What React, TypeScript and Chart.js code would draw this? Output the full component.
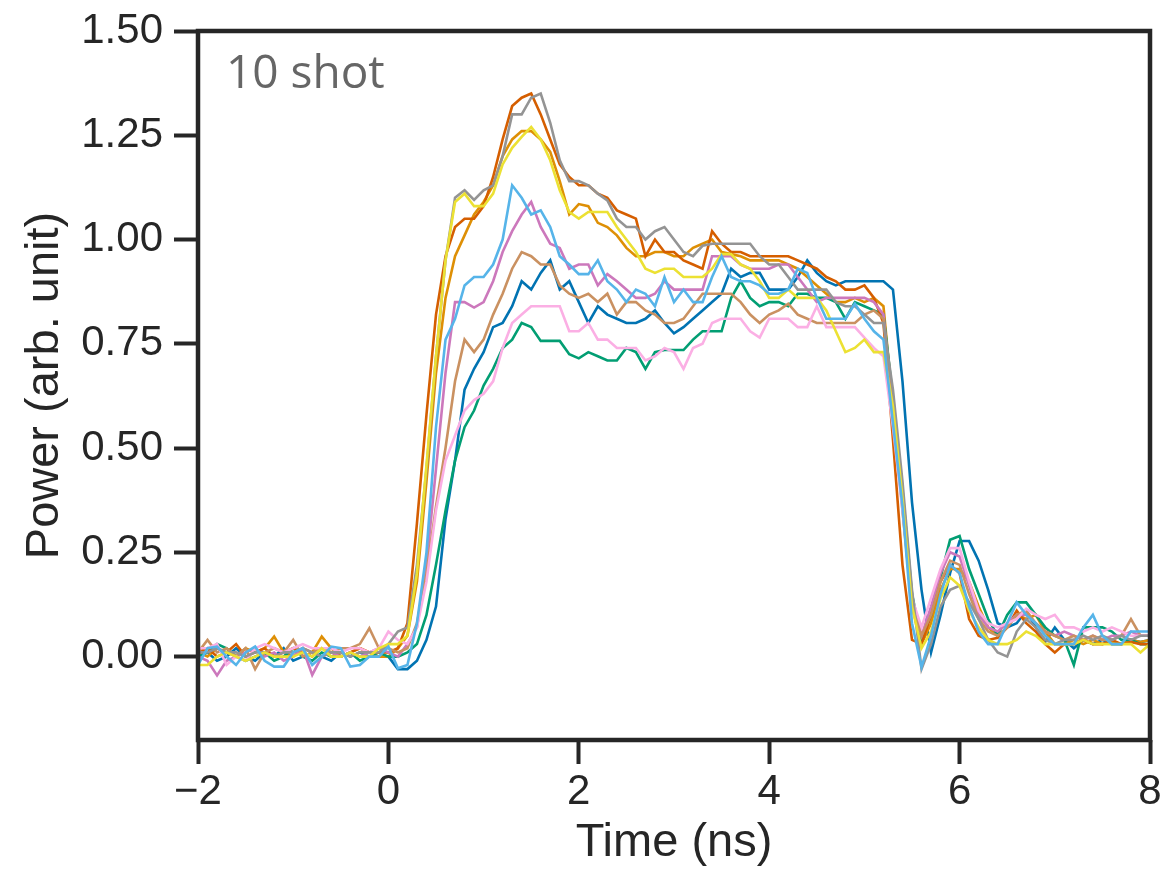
import React, { useEffect, useRef } from "react";
import { Chart, registerables } from "chart.js";

Chart.register(...registerables);

const TIME = [
  -2.0, -1.9, -1.8, -1.7, -1.6, -1.5, -1.4, -1.3, -1.2, -1.1,
  -1.0, -0.9, -0.8, -0.7, -0.6, -0.5, -0.4, -0.3, -0.2, -0.1,
  0.0, 0.1, 0.2, 0.3, 0.4, 0.5, 0.6, 0.7, 0.8, 0.9,
  1.0, 1.1, 1.2, 1.3, 1.4, 1.5, 1.6, 1.7, 1.8, 1.9,
  2.0, 2.1, 2.2, 2.3, 2.4, 2.5, 2.6, 2.7, 2.8, 2.9,
  3.0, 3.1, 3.2, 3.3, 3.4, 3.5, 3.6, 3.7, 3.8, 3.9,
  4.0, 4.1, 4.2, 4.3, 4.4, 4.5, 4.6, 4.7, 4.8, 4.9,
  5.0, 5.1, 5.2, 5.3, 5.4, 5.5, 5.6, 5.7, 5.8, 5.9,
  6.0, 6.1, 6.2, 6.3, 6.4, 6.5, 6.6, 6.7, 6.8, 6.9,
  7.0, 7.1, 7.2, 7.3, 7.4, 7.5, 7.6, 7.7, 7.8, 7.9, 8.0,
];

const SHOT_BLUE = [
  0.0, 0.01, -0.01, 0.0, 0.02, 0.0, -0.01, 0.01, 0.0, 0.02, -0.01, 0.0, 0.01, 0.0, -0.01, 0.01, 0.0, 0.01, 0.0, 0.0,
  0.0, -0.03, -0.03, -0.01, 0.04, 0.12, 0.33, 0.47, 0.64, 0.69, 0.73, 0.79, 0.8, 0.84, 0.9, 0.88, 0.92, 0.95, 0.88, 0.9,
  0.85, 0.8, 0.84, 0.82, 0.81, 0.8, 0.8, 0.81, 0.83, 0.8, 0.775, 0.79, 0.81, 0.83, 0.85, 0.87, 0.93, 0.91, 0.92, 0.92,
  0.88, 0.88, 0.88, 0.91, 0.95, 0.92, 0.9, 0.89, 0.9, 0.9, 0.9, 0.9, 0.9, 0.88, 0.66, 0.37, 0.16, 0.01, 0.1, 0.2,
  0.277, 0.277, 0.23, 0.16, 0.08, 0.07, 0.08, 0.11, 0.07, 0.035, 0.07, 0.04, 0.02, 0.04, 0.03, 0.04, 0.03, 0.03, 0.04, 0.035, 0.04,
];
const SHOT_ORANGE = [
  0.01, 0.0, 0.02, 0.01, 0.0, 0.02, 0.01, 0.02, 0.048, 0.01, 0.0, 0.02, 0.01, 0.048, 0.02, 0.0, 0.01, 0.02, 0.01, 0.0,
  0.0, 0.02, 0.05, 0.18, 0.42, 0.68, 0.86, 0.96, 1.01, 1.06, 1.09, 1.13, 1.2, 1.24, 1.26, 1.26, 1.24, 1.21, 1.14, 1.06,
  1.085, 1.08, 1.04, 1.03, 1.01, 0.98, 0.96, 0.96, 0.97, 0.97, 0.96, 0.96, 0.98, 0.99, 1.0, 0.97, 0.965, 0.96, 0.95, 0.95,
  0.95, 0.95, 0.94, 0.93, 0.91, 0.89, 0.87, 0.85, 0.85, 0.86, 0.85, 0.86, 0.84, 0.6, 0.35, 0.12, 0.03, 0.08, 0.16, 0.21,
  0.21, 0.18, 0.12, 0.07, 0.05, 0.07, 0.1, 0.09, 0.1, 0.06, 0.03, 0.03, 0.04, 0.03, 0.04, 0.03, 0.035, 0.03, 0.04, 0.035, 0.04,
];
const SHOT_GREEN = [
  0.0, 0.01, 0.03, 0.02, 0.0, -0.01, 0.0, 0.01, -0.01, 0.0, 0.02, 0.0, -0.01, 0.01, 0.0, 0.0, 0.01, -0.01, 0.0, 0.01,
  0.0, 0.0, 0.01, 0.03, 0.1, 0.22, 0.35, 0.47, 0.55, 0.59, 0.65, 0.69, 0.74, 0.76, 0.8, 0.79, 0.757, 0.757, 0.757, 0.725,
  0.715, 0.73, 0.72, 0.71, 0.71, 0.74, 0.73, 0.69, 0.73, 0.735, 0.735, 0.735, 0.76, 0.78, 0.78, 0.78, 0.86, 0.9, 0.86, 0.84,
  0.85, 0.85, 0.84, 0.87, 0.87, 0.86, 0.86, 0.85, 0.81, 0.85, 0.84, 0.83, 0.82, 0.62, 0.4, 0.15, 0.04, 0.1, 0.19, 0.28,
  0.289, 0.21, 0.15, 0.09, 0.05, 0.1, 0.13, 0.13, 0.1, 0.07, 0.05, 0.04, -0.02, 0.07, 0.07, 0.07, 0.06, 0.04, 0.04, 0.03, 0.03,
];
const SHOT_RED = [
  0.01, 0.02, 0.0, 0.01, 0.03, 0.0, 0.01, 0.02, 0.0, 0.01, 0.02, 0.01, 0.0, 0.02, 0.01, 0.0, 0.01, 0.02, 0.01, 0.01,
  0.01, 0.02, 0.08, 0.32, 0.58, 0.82, 0.96, 1.03, 1.05, 1.05, 1.08, 1.15, 1.24, 1.32, 1.34, 1.35, 1.3, 1.24, 1.18, 1.15,
  1.13, 1.13, 1.11, 1.1, 1.07, 1.06, 1.05, 0.96, 1.0, 0.97, 0.97, 0.95, 0.94, 0.93, 1.02, 0.99, 0.97, 0.97, 0.96, 0.96,
  0.96, 0.96, 0.96, 0.95, 0.94, 0.93, 0.91, 0.9, 0.88, 0.88, 0.89, 0.86, 0.8, 0.52, 0.22, 0.04, 0.03, 0.1, 0.18, 0.22,
  0.2, 0.09, 0.05, 0.04, 0.045, 0.07, 0.11, 0.08, 0.06, 0.03, 0.01, 0.03, 0.03, 0.04, 0.03, 0.03, 0.04, 0.03, 0.035, 0.03, 0.03,
];
const SHOT_PURPLE = [
  0.0, -0.01, -0.045, -0.01, 0.0, 0.01, 0.02, 0.0, 0.01, -0.01, 0.0, 0.02, -0.044, 0.0, 0.01, 0.0, 0.01, 0.0, 0.01, 0.02,
  0.01, 0.0, 0.03, 0.07, 0.22, 0.45, 0.68, 0.85, 0.85, 0.837, 0.85, 0.9, 0.97, 1.02, 1.06, 1.09, 1.03, 0.99, 0.98, 0.93,
  0.94, 0.94, 0.89, 0.917, 0.9, 0.88, 0.86, 0.86, 0.87, 0.9, 0.88, 0.88, 0.88, 0.88, 0.96, 0.96, 0.96, 0.94, 0.93, 0.93,
  0.93, 0.94, 0.94, 0.91, 0.88, 0.85, 0.86, 0.86, 0.86, 0.86, 0.86, 0.85, 0.82, 0.58, 0.36, 0.12, 0.05, 0.12, 0.2, 0.25,
  0.24, 0.17, 0.1, 0.07, 0.06, 0.08, 0.1, 0.1, 0.08, 0.06, 0.05, 0.06, 0.05, 0.04, 0.05, 0.04, 0.05, 0.05, 0.06, 0.05, 0.05,
];
const SHOT_BROWN = [
  0.01, 0.04, 0.01, 0.02, 0.0, 0.02, -0.03, 0.01, 0.02, 0.01, 0.04, 0.0, 0.01, 0.02, 0.01, 0.02, 0.02, 0.03, 0.068, 0.02,
  0.02, 0.01, 0.02, 0.08, 0.2, 0.36, 0.5, 0.66, 0.76, 0.73, 0.76, 0.82, 0.87, 0.93, 0.97, 0.96, 0.94, 0.94, 0.89, 0.87,
  0.86, 0.87, 0.85, 0.87, 0.82, 0.85, 0.85, 0.83, 0.82, 0.8, 0.8, 0.81, 0.84, 0.87, 0.87, 0.87, 0.87, 0.85, 0.82, 0.8,
  0.82, 0.83, 0.846, 0.82, 0.81, 0.8, 0.8, 0.8, 0.8, 0.8, 0.82, 0.83, 0.81, 0.6, 0.38, 0.14, 0.05, 0.1, 0.18, 0.23,
  0.22, 0.15, 0.09, 0.06, 0.05, 0.07, 0.1, 0.11, 0.08, 0.06, 0.05, 0.04, 0.05, 0.04, 0.05, 0.04, 0.04, 0.05, 0.09, 0.05, 0.05,
];
const SHOT_PINK = [
  0.02, 0.02, 0.03, -0.02, 0.0, -0.01, 0.02, 0.03, 0.02, 0.01, 0.02, 0.03, 0.02, 0.02, 0.02, 0.01, 0.02, 0.02, 0.01, 0.02,
  0.06, 0.04, 0.03, 0.07, 0.18, 0.35, 0.47, 0.53, 0.59, 0.615, 0.63, 0.66, 0.74, 0.8, 0.82, 0.84, 0.84, 0.84, 0.84, 0.78,
  0.78, 0.8, 0.76, 0.76, 0.74, 0.74, 0.74, 0.71, 0.72, 0.74, 0.73, 0.69, 0.74, 0.75, 0.8, 0.81, 0.81, 0.81, 0.78, 0.765,
  0.81, 0.81, 0.81, 0.79, 0.79, 0.84, 0.79, 0.79, 0.79, 0.79, 0.765, 0.74, 0.72, 0.55, 0.35, 0.14, 0.07, 0.14, 0.21, 0.26,
  0.26, 0.18, 0.11, 0.08, 0.07, 0.08, 0.09, 0.115, 0.1, 0.09, 0.1, 0.07, 0.07, 0.06, 0.07, 0.06, 0.07, 0.06, 0.05, 0.05, 0.05,
];
const SHOT_GRAY = [
  0.01, 0.01, 0.02, 0.01, 0.01, 0.0, 0.01, 0.01, 0.0, 0.01, 0.01, 0.02, 0.01, 0.0, 0.01, 0.01, 0.0, 0.01, 0.01, 0.01,
  0.03, 0.06, 0.07, 0.22, 0.45, 0.72, 0.95, 1.1, 1.118, 1.095, 1.118, 1.13, 1.2, 1.3, 1.3, 1.34, 1.35, 1.28, 1.19, 1.14,
  1.14, 1.13, 1.11, 1.094, 1.05, 1.03, 1.03, 1.0, 1.02, 1.03, 1.0, 0.97, 0.96, 0.985, 0.99, 0.99, 0.99, 0.99, 0.99, 0.96,
  0.94, 0.94, 0.91, 0.88, 0.88, 0.88, 0.88, 0.85, 0.84, 0.84, 0.82, 0.8, 0.8, 0.64, 0.42, 0.16, -0.03, 0.03, 0.12, 0.16,
  0.17, 0.13, 0.09, 0.04, 0.01, 0.0, 0.06, 0.09, 0.07, 0.04, 0.03, 0.04, 0.04, 0.05, 0.04, 0.05, 0.04, 0.05, 0.04, 0.05, 0.05,
];
const SHOT_YELLOW = [
  -0.02, -0.02, 0.0, 0.01, 0.0, -0.01, 0.0, 0.01, 0.0, 0.0, 0.0, 0.01, 0.0, 0.02, 0.0, 0.0, 0.01, 0.0, 0.0, 0.02,
  0.03, 0.03, 0.05, 0.2, 0.46, 0.72, 0.95, 1.09, 1.11, 1.08, 1.08, 1.11, 1.18, 1.22, 1.246, 1.27, 1.24, 1.19, 1.118, 1.066,
  1.05, 1.066, 1.066, 1.066, 1.03, 1.0, 0.97, 0.93, 0.92, 0.93, 0.93, 0.91, 0.91, 0.91, 0.93, 0.965, 0.965, 0.94, 0.93, 0.9,
  0.86, 0.86, 0.88, 0.86, 0.86, 0.86, 0.83, 0.78, 0.73, 0.74, 0.76, 0.73, 0.73, 0.6, 0.38, 0.12, 0.02, 0.06, 0.14, 0.19,
  0.17, 0.11, 0.07, 0.04, 0.03, 0.03, 0.04, 0.06, 0.05, 0.03, 0.03, 0.03, 0.03, 0.04, 0.03, 0.03, 0.03, 0.03, 0.03, 0.01, 0.03,
];
const SHOT_LIGHTBLUE = [
  -0.02, 0.02, 0.024, 0.0, -0.02, 0.01, 0.024, -0.01, -0.024, -0.024, 0.01, 0.02, -0.02, 0.0, 0.024, 0.02, -0.024, -0.02, 0.0, 0.0,
  0.024, -0.028, -0.02, 0.08, 0.25, 0.55, 0.76, 0.81, 0.89, 0.91, 0.91, 0.94, 1.0, 1.13, 1.1, 1.06, 1.07, 1.03, 0.96, 0.94,
  0.917, 0.917, 0.95, 0.9, 0.88, 0.85, 0.88, 0.87, 0.84, 0.91, 0.85, 0.88, 0.85, 0.85, 0.91, 0.96, 0.91, 0.9, 0.9, 0.89,
  0.87, 0.87, 0.88, 0.93, 0.92, 0.86, 0.81, 0.81, 0.81, 0.846, 0.81, 0.78, 0.76, 0.56, 0.36, 0.08, -0.025, 0.05, 0.15, 0.22,
  0.2, 0.12, 0.06, 0.03, 0.03, 0.08, 0.13, 0.1, 0.08, 0.05, 0.03, 0.03, 0.03, 0.07, 0.1, 0.05, 0.03, 0.03, 0.06, 0.06, 0.06,
];

const SERIES = [SHOT_BLUE, SHOT_ORANGE, SHOT_GREEN, SHOT_RED, SHOT_PURPLE, SHOT_BROWN, SHOT_PINK, SHOT_GRAY, SHOT_YELLOW, SHOT_LIGHTBLUE];
const COLORS = ["#0173b2", "#de8f05", "#029e73", "#d55e00", "#cc78bc", "#ca9161", "#fbafe4", "#949494", "#ece133", "#56b4e9"];
const X_TICKS = [-2, 0, 2, 4, 6, 8];
const Y_TICKS = [0, 0.25, 0.5, 0.75, 1.0, 1.25, 1.5];

const INK = "#262626";
const FONT = "'Liberation Sans', Arial, sans-serif";

const framePlugin = {
  id: "frame",
  afterDatasetsDraw(chart: any) {
    const { ctx, chartArea } = chart;
    ctx.save();
    ctx.strokeStyle = INK;
    ctx.lineWidth = 4.5;
    ctx.strokeRect(chartArea.left, chartArea.top, chartArea.right - chartArea.left, chartArea.bottom - chartArea.top);
    ctx.restore();
  },
  afterDraw(chart: any) {
    const { ctx } = chart;
    ctx.save();
    ctx.font = "46px 'Open Sans', sans-serif";
    ctx.fillStyle = "#666666";
    ctx.textAlign = "left";
    ctx.textBaseline = "alphabetic";
    ctx.fillText("10 shot", 226, 88);
    ctx.restore();
  },
};

export default function App() {
  const ref = useRef<HTMLCanvasElement | null>(null);
  useEffect(() => {
    if (!ref.current) return;
    const chart = new Chart(ref.current, {
      type: "line",
      data: {
        datasets: SERIES.map((vals, i) => ({
          label: "shot " + (i + 1),
          data: TIME.map((t, j) => ({ x: t, y: vals[j] })),
          borderColor: COLORS[i],
          backgroundColor: COLORS[i],
          borderWidth: 2.6,
          pointRadius: 0,
          tension: 0,
          fill: false,
          order: 9 - i,
        })),
      },
      options: {
        animation: false,
        responsive: false,
        devicePixelRatio: 1,
        layout: { padding: { left: 0, right: 15, top: 31, bottom: 0 } },
        plugins: { legend: { display: false }, tooltip: { enabled: false } },
        scales: {
          x: {
            type: "linear",
            min: -2,
            max: 8,
            afterBuildTicks: (s: any) => { s.ticks = X_TICKS.map((v) => ({ value: v })); },
            afterFit: (s: any) => { s.height = 129; s.paddingLeft = 0; s.paddingRight = 0; },
            ticks: {
              font: { family: FONT, size: 42 },
              color: INK,
              padding: 3,
              maxRotation: 0,
              autoSkip: false,
              callback: (v: any) => (Number(v) < 0 ? "\u2212" + Math.abs(Number(v)) : String(v)),
            },
            grid: { drawOnChartArea: false, drawTicks: true, tickLength: 24, tickWidth: 4, tickColor: INK },
            border: { display: false },
            title: {
              display: true,
              text: "Time (ns)",
              font: { family: FONT, size: 47, lineHeight: 1 },
              color: INK,
              padding: { top: 0, bottom: 2 },
            },
          },
          y: {
            type: "linear",
            min: -0.2,
            max: 1.5,
            afterBuildTicks: (s: any) => { s.ticks = Y_TICKS.map((v) => ({ value: v })); },
            afterFit: (s: any) => { s.width = 198; s.paddingTop = 0; s.paddingBottom = 0; },
            ticks: {
              font: { family: FONT, size: 42 },
              color: INK,
              padding: 11,
              autoSkip: false,
              callback: (v: any) => Number(v).toFixed(2),
            },
            grid: { drawOnChartArea: false, drawTicks: true, tickLength: 24, tickWidth: 4, tickColor: INK },
            border: { display: false },
            title: {
              display: true,
              text: "Power (arb. unit)",
              font: { family: FONT, size: 47, lineHeight: 1 },
              color: INK,
              padding: { top: 22, bottom: 0 },
            },
          },
        },
      },
      plugins: [framePlugin],
    });
    return () => chart.destroy();
  }, []);
  return (
    <div style={{ position: "fixed", left: 0, top: 0, width: 1165, height: 869, background: "#fff" }}>
      <canvas ref={ref} width={1165} height={869} style={{ display: "block" }} />
    </div>
  );
}
